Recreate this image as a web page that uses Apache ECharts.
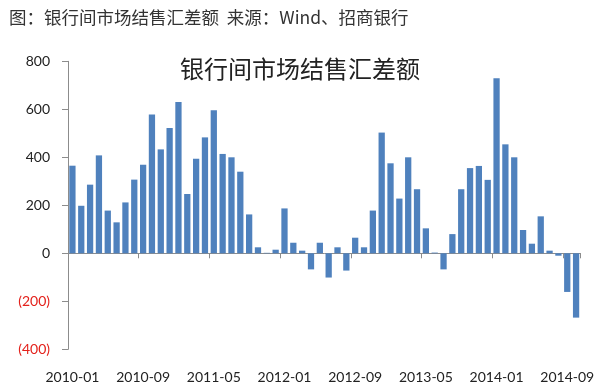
<!DOCTYPE html>
<html>
<head>
<meta charset="utf-8">
<script src="https://cdn.jsdelivr.net/npm/echarts@6/dist/echarts.min.js"></script>
<style>
html,body{margin:0;padding:0;background:#fff;}
#chart{width:600px;height:388px;}
</style>
</head>
<body>
<div id="chart"></div>
<script>
var headerText = '图：银行间市场结售汇差额  来源：Wind、招商银行';
var chartTitle = '银行间市场结售汇差额';
var months = [
  '2010-01','2010-02','2010-03','2010-04','2010-05','2010-06','2010-07','2010-08','2010-09','2010-10','2010-11','2010-12',
  '2011-01','2011-02','2011-03','2011-04','2011-05','2011-06','2011-07','2011-08','2011-09','2011-10','2011-11','2011-12',
  '2012-01','2012-02','2012-03','2012-04','2012-05','2012-06','2012-07','2012-08','2012-09','2012-10','2012-11','2012-12',
  '2013-01','2013-02','2013-03','2013-04','2013-05','2013-06','2013-07','2013-08','2013-09','2013-10','2013-11','2013-12',
  '2014-01','2014-02','2014-03','2014-04','2014-05','2014-06','2014-07','2014-08','2014-09','2014-10'
];
var netSales = [
  365, 198, 286, 408, 178, 129, 212, 307, 369, 578, 433, 522,
  630, 247, 394, 483, 596, 414, 400, 340, 162, 25, 2, 15,
  187, 44, 11, -67, 44, -101, 25, -72, 65, 25, 178, 503,
  375, 228, 400, 267, 104, 3, -67, 80, 267, 355, 364, 306,
  729, 454, 400, 97, 40, 154, 11, -10, -161, -268
];
var yMin = -400, yMax = 800, yStep = 200;

var chart = echarts.init(document.getElementById('chart'));
var axisFont = 'Lato, "Open Sans", sans-serif';
chart.setOption({
  animation: false,
  backgroundColor: '#ffffff',
  title: [
    { text: headerText, left: 4, top: 4,
      textStyle: { fontSize: 17.5, fontWeight: 'normal', color: '#333', fontFamily: '"Noto Sans CJK SC", sans-serif' } },
    { text: chartTitle, left: 'center', top: 52,
      textStyle: { fontSize: 24, fontWeight: 'normal', color: '#222', fontFamily: '"Noto Sans CJK SC", sans-serif' } }
  ],
  grid: { left: 68, right: 19.5, top: 61.3, bottom: 38.7, containLabel: false, outerBoundsMode: 'none' },
  xAxis: [{
    type: 'category',
    data: months,
    boundaryGap: true,
    axisLine: { onZero: true, lineStyle: { color: '#8c8c8c', width: 1 } },
    axisTick: { show: true, interval: 7, length: 5, lineStyle: { color: '#8c8c8c' } },
    axisLabel: { show: false },
    splitLine: { show: false }
  }, {
    type: 'category',
    data: months,
    position: 'bottom',
    boundaryGap: true,
    axisLine: { show: false, onZero: false },
    axisTick: { show: false },
    axisLabel: { interval: 7, margin: 21, fontSize: 14, color: '#222', fontFamily: axisFont },
    splitLine: { show: false }
  }],
  yAxis: {
    type: 'value',
    min: yMin, max: yMax, interval: yStep,
    axisLine: { show: true, lineStyle: { color: '#8c8c8c', width: 1 } },
    axisTick: { show: true, length: 6, lineStyle: { color: '#8c8c8c' } },
    axisLabel: {
      margin: 18, fontSize: 14, fontFamily: axisFont,
      formatter: function (v) { return v < 0 ? '(' + (-v) + ')' : String(v); },
      color: function (v) { return Number(v) < 0 ? '#e3211b' : '#222'; }
    },
    splitLine: { show: false }
  },
  series: [{
    type: 'bar',
    xAxisIndex: 0,
    data: netSales,
    barCategoryGap: '29%',
    itemStyle: { color: '#4f81bd' }
  }]
});
</script>
</body>
</html>
